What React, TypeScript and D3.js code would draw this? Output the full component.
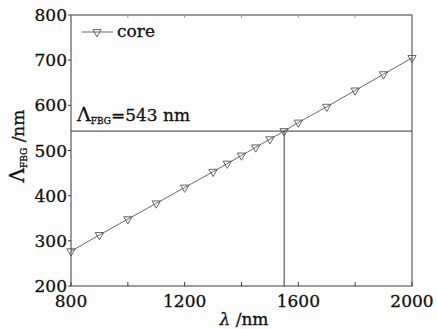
import React, { useRef, useEffect } from "react";
import * as d3 from "d3";

const wavelengths = [800, 900, 1000, 1100, 1200, 1300, 1350, 1400, 1450, 1500, 1550, 1600, 1700, 1800, 1900, 2000];
const periods = [277, 313, 348, 383, 418, 453, 471, 489, 507, 525, 543, 562, 597, 633, 669, 705];
const xTickLabels = [800, 1200, 1600, 2000];
const xTicks = [800, 1000, 1200, 1400, 1600, 1800, 2000];
const yTicks = [200, 300, 400, 500, 600, 700, 800];
const markLambda = 1550;
const markPeriod = 543;

const FONT = "'DejaVu Serif', 'Liberation Serif', serif";

const App = () => {
  const ref = useRef<SVGSVGElement>(null);

  useEffect(() => {
    const svg = d3.select(ref.current);
    svg.selectAll("*").remove();
    const width = 437;
    const height = 329;
    const margin = { top: 15, right: 25, bottom: 43, left: 71 };

    const x = d3.scaleLinear().domain([800, 2000]).range([margin.left, width - margin.right]);
    const y = d3.scaleLinear().domain([200, 800]).range([height - margin.bottom, margin.top]);

    svg.append("rect").attr("width", width).attr("height", height).attr("fill", "#fdfdfd");

    const ink = "#3a3a3a";
    // text helper: a light stroke makes DejaVu closer to the heavier print face
    const txt = (sel: any, size: number) =>
      sel
        .attr("font-family", FONT)
        .attr("font-size", size)
        .attr("fill", "#111")
        .attr("stroke", "#111")
        .attr("stroke-width", 0.3);

    // frame
    svg
      .append("rect")
      .attr("x", x(800))
      .attr("y", y(800))
      .attr("width", x(2000) - x(800))
      .attr("height", y(200) - y(800))
      .attr("fill", "none")
      .attr("stroke", ink)
      .attr("stroke-width", 1);

    // x ticks, inward on bottom and top
    xTicks.forEach((t) => {
      svg.append("line").attr("x1", x(t)).attr("x2", x(t)).attr("y1", y(200)).attr("y2", y(200) - 4).attr("stroke", ink);
      svg.append("line").attr("x1", x(t)).attr("x2", x(t)).attr("y1", y(800)).attr("y2", y(800) + 3).attr("stroke", "#999");
    });
    xTickLabels.forEach((t) => {
      txt(svg.append("text"), 17)
        .attr("x", x(t))
        .attr("y", y(200) + 21)
        .attr("text-anchor", "middle")
        .text(t);
    });

    // y ticks, outward on left
    yTicks.forEach((t) => {
      svg.append("line").attr("x1", x(800) - 3).attr("x2", x(800)).attr("y1", y(t)).attr("y2", y(t)).attr("stroke", ink);
      txt(svg.append("text"), 17)
        .attr("x", x(800) - 4)
        .attr("y", y(t) + 6)
        .attr("text-anchor", "end")
        .text(t);
    });

    // reference lines
    svg
      .append("line")
      .attr("x1", x(800))
      .attr("x2", x(2000))
      .attr("y1", y(markPeriod))
      .attr("y2", y(markPeriod))
      .attr("stroke", ink);
    svg
      .append("line")
      .attr("x1", x(markLambda))
      .attr("x2", x(markLambda))
      .attr("y1", y(markPeriod))
      .attr("y2", y(200))
      .attr("stroke", ink);

    // data line
    const line = d3
      .line<number>()
      .x((d, i) => x(wavelengths[i]))
      .y((d) => y(d));
    svg.append("path").datum(periods).attr("d", line).attr("fill", "none").attr("stroke", "#444").attr("stroke-width", 0.8);

    const tri = d3.symbol().type(d3.symbolTriangle).size(30);
    svg
      .selectAll(".mk")
      .data(periods)
      .join("path")
      .attr("class", "mk")
      .attr("d", tri)
      .attr("transform", (d, i) => `translate(${x(wavelengths[i])},${y(d)}) rotate(180)`)
      .attr("fill", "none")
      .attr("stroke", "#555")
      .attr("stroke-width", 0.9);

    // legend
    svg.append("line").attr("x1", 82).attr("x2", 113).attr("y1", 32).attr("y2", 32).attr("stroke", "#444").attr("stroke-width", 0.8);
    svg
      .append("path")
      .attr("d", tri)
      .attr("transform", "translate(97,32) rotate(180)")
      .attr("fill", "none")
      .attr("stroke", "#555")
      .attr("stroke-width", 0.9);
    txt(svg.append("text"), 17).attr("x", 117).attr("y", 37).text("core");

    // annotation
    const ann = txt(svg.append("text"), 17).attr("x", 77).attr("y", 121);
    ann.append("tspan").attr("font-size", 19).text("Λ");
    ann.append("tspan").attr("font-size", 9).attr("dy", 3).text("FBG");
    ann.append("tspan").attr("dy", -3).text(`=${markPeriod} nm`);

    // axis titles
    const xt = txt(svg.append("text"), 17).attr("x", 244).attr("y", 325).attr("text-anchor", "middle");
    xt.append("tspan").attr("font-style", "italic").text("λ");
    xt.append("tspan").text(" /nm");

    const yt = txt(svg.append("text"), 17)
      .attr("transform", "translate(24,146) rotate(-90)")
      .attr("text-anchor", "middle");
    yt.append("tspan").attr("font-size", 20).text("Λ");
    yt.append("tspan").attr("font-size", 9).attr("dy", 3).text("FBG");
    yt.append("tspan").attr("dy", -3).text(" /nm");
  }, []);

  return (
    <div style={{ position: "absolute", left: 0, top: 0 }}>
      <svg ref={ref} width={437} height={329} style={{ display: "block" }} />
    </div>
  );
};

export default App;
